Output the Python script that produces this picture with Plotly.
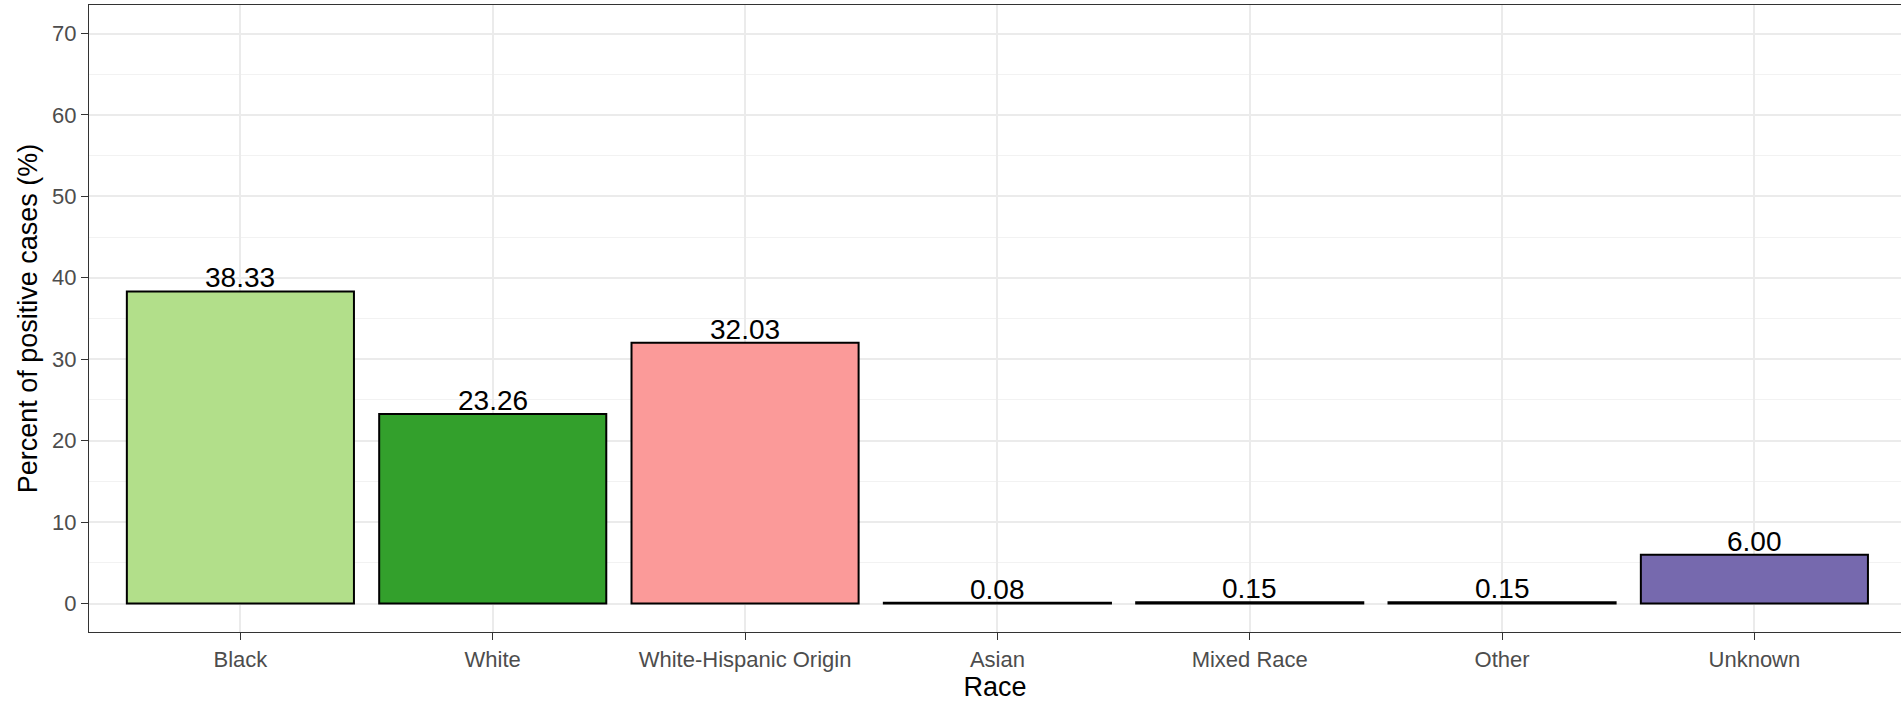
import plotly.graph_objects as go

categories = ["Black", "White", "White-Hispanic Origin", "Asian", "Mixed Race", "Other", "Unknown"]
values = [38.33, 23.26, 32.03, 0.08, 0.15, 0.15, 6.00]
labels = ["38.33", "23.26", "32.03", "0.08", "0.15", "0.15", "6.00"]
colors = ["#b2df8a", "#33a02c", "#fb9a99", "#e31a1c", "#fdbf6f", "#ff7f00", "#7669ae"]
y_ticks = [0, 10, 20, 30, 40, 50, 60, 70]

FONT = "Liberation Sans, Arial, Helvetica, sans-serif"
xpos = list(range(1, len(categories) + 1))

fig = go.Figure()
fig.add_trace(go.Bar(
    x=xpos,
    y=values,
    width=0.9,
    marker=dict(color=colors, line=dict(color="black", width=2)),
    showlegend=False,
    hoverinfo="skip",
))

for xv, yv, lab in zip(xpos, values, labels):
    fig.add_annotation(
        x=xv, y=yv, text=lab, showarrow=False,
        xanchor="center", yanchor="bottom", yshift=-4,
        font=dict(family=FONT, size=28, color="black"),
    )

fig.update_layout(
    width=1901, height=704,
    margin=dict(l=89, r=0, t=5, b=72, autoexpand=False),
    paper_bgcolor="white",
    plot_bgcolor="white",
    font=dict(family=FONT),
    bargap=0.1,
)

fig.update_xaxes(
    automargin=False,
    range=[0.4, 7.581],
    tickmode="array",
    tickvals=xpos,
    ticktext=categories,
    tickfont=dict(family=FONT, size=22, color="#4d4d4d"),
    ticks="outside", ticklen=7, tickcolor="#333333", tickwidth=1.2,
    showgrid=True, gridcolor="#ebebeb", gridwidth=1.6,
    showline=True, linecolor="#333333", linewidth=1.2, mirror=True,
    zeroline=False,
    title=dict(text="Race", font=dict(family=FONT, size=27, color="black"), standoff=6),
)

fig.update_yaxes(
    automargin=False,
    range=[-3.5, 73.5],
    tickmode="array",
    tickvals=y_ticks,
    ticktext=[str(v) for v in y_ticks],
    tickfont=dict(family=FONT, size=22, color="#4d4d4d"),
    ticks="outside", ticklen=7, tickcolor="#333333", tickwidth=1.2,
    showgrid=True, gridcolor="#ebebeb", gridwidth=1.6,
    minor=dict(dtick=10, tick0=5, showgrid=True, gridcolor="#f2f2f2", gridwidth=1),
    showline=True, linecolor="#333333", linewidth=1.2, mirror=False,
    zeroline=False,
    title=dict(text="Percent of positive cases (%)", font=dict(family=FONT, size=27, color="black"), standoff=6),
)

fig.write_html(
    "out.html",
    config={"displayModeBar": False},
    post_script="document.body.style.margin='0';document.body.style.overflow='hidden';",
)
